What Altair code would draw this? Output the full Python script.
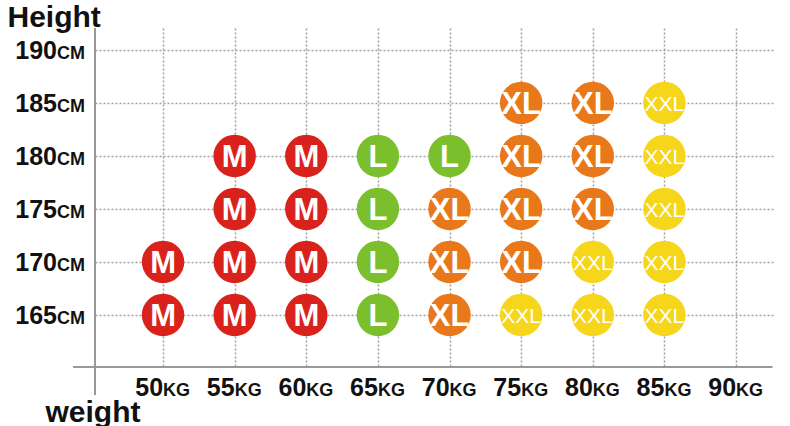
import altair as alt
import pandas as pd

# ---- data ----
weight_ticks = [50, 55, 60, 65, 70, 75, 80, 85, 90]
height_ticks = [165, 170, 175, 180, 185, 190]

pt_weight = [50, 50,
             55, 55, 55, 55,
             60, 60, 60, 60,
             65, 65, 65, 65,
             70, 70, 70, 70,
             75, 75, 75, 75, 75,
             80, 80, 80, 80, 80,
             85, 85, 85, 85, 85]
pt_height = [165, 170,
             165, 170, 175, 180,
             165, 170, 175, 180,
             165, 170, 175, 180,
             165, 170, 175, 180,
             165, 170, 175, 180, 185,
             165, 170, 175, 180, 185,
             165, 170, 175, 180, 185]
pt_size = ["M", "M",
           "M", "M", "M", "M",
           "M", "M", "M", "M",
           "L", "L", "L", "L",
           "XL", "XL", "XL", "L",
           "XXL", "XL", "XL", "XL", "XL",
           "XXL", "XXL", "XL", "XL", "XL",
           "XXL", "XXL", "XXL", "XXL", "XXL"]

size_names = ["M", "L", "XL", "XXL"]
size_colors = ["#d9221c", "#7cbf2c", "#e8781a", "#f6d61a"]

X_DOMAIN = [45.25, 92.72]
Y_DOMAIN = [160.09, 192.07]

# axis lines (data units)
xline = pd.DataFrame({"x": [43.72], "x2": [92.55], "y": [160.09]})
yline = pd.DataFrame({"x": [45.25], "y": [157.45], "y2": [192.07]})

pts = pd.DataFrame({"w": pt_weight, "h": pt_height, "s": pt_size})
xlab = pd.DataFrame({"w": weight_ticks, "num": [str(v) for v in weight_ticks],
                     "unit": ["KG"] * len(weight_ticks), "h": [Y_DOMAIN[0]] * len(weight_ticks)})
ylab = pd.DataFrame({"h": height_ticks, "num": [str(v) for v in height_ticks],
                     "unit": ["CM"] * len(height_ticks), "w": [X_DOMAIN[0]] * len(height_ticks)})

FONT = "Liberation Sans"
xs = alt.Scale(domain=X_DOMAIN, nice=False, zero=False)
ys = alt.Scale(domain=Y_DOMAIN, nice=False, zero=False)

xaxis = alt.Axis(values=weight_ticks, grid=True, gridDash=[2, 2], gridColor="#a0a0a0",
                 gridWidth=1.5, domain=False, ticks=False, labels=False,
                 title="weight", titleAngle=0, titleX=-50, titleY=54, titleAlign="left",
                 titleBaseline="alphabetic", titleFontSize=30, titleFont=FONT,
                 titleFontWeight="bold", titleColor="#111111")
yaxis = alt.Axis(values=height_ticks, grid=True, gridDash=[2, 2], gridColor="#a0a0a0",
                 gridWidth=1.5, domain=False, ticks=False, labels=False,
                 title="Height", titleAngle=0, titleX=-88, titleY=-2, titleAlign="left",
                 titleBaseline="alphabetic", titleFontSize=30, titleFont=FONT,
                 titleFontWeight="bold", titleColor="#111111")

base_grid = alt.Chart(pts).mark_point(opacity=0).encode(
    x=alt.X("w:Q", scale=xs, axis=xaxis),
    y=alt.Y("h:Q", scale=ys, axis=yaxis),
)

x_rule = alt.Chart(xline).mark_rule(color="#999999", strokeWidth=2).encode(
    x=alt.X("x:Q", scale=xs), x2="x2:Q", y=alt.Y("y:Q", scale=ys))
y_rule = alt.Chart(yline).mark_rule(color="#999999", strokeWidth=2).encode(
    x=alt.X("x:Q", scale=xs), y=alt.Y("y:Q", scale=ys), y2="y2:Q")

circles = alt.Chart(pts).mark_circle(size=1800, opacity=1).encode(
    x=alt.X("w:Q", scale=xs),
    y=alt.Y("h:Q", scale=ys),
    color=alt.Color("s:N", scale=alt.Scale(domain=size_names, range=size_colors), legend=None),
)

bold_lbl = alt.Chart(pts).transform_filter(alt.datum.s != "XXL").mark_text(
    font=FONT, fontWeight="bold", fontSize=31, color="white", align="center",
    baseline="alphabetic", dy=11
).encode(x=alt.X("w:Q", scale=xs), y=alt.Y("h:Q", scale=ys), text="s:N")

narrow_lbl = alt.Chart(pts).transform_filter(alt.datum.s == "XXL").mark_text(
    font=FONT, fontWeight="normal", fontSize=21, color="white",
    align="center", baseline="alphabetic", dy=8
).encode(x=alt.X("w:Q", scale=xs), y=alt.Y("h:Q", scale=ys), text="s:N")

x_num = alt.Chart(xlab).mark_text(font=FONT, fontWeight="bold", fontSize=25, color="#111111",
                                  align="right", baseline="alphabetic", dy=29).encode(
    x=alt.X("w:Q", scale=xs), y=alt.Y("h:Q", scale=ys), text="num:N")
x_unit = alt.Chart(xlab).mark_text(font=FONT, fontWeight="bold", fontSize=18, color="#111111",
                                   align="left", baseline="alphabetic", dy=29).encode(
    x=alt.X("w:Q", scale=xs), y=alt.Y("h:Q", scale=ys), text="unit:N")

y_num = alt.Chart(ylab).mark_text(font=FONT, fontWeight="bold", fontSize=25, color="#111111",
                                  align="right", baseline="alphabetic", dx=-38, dy=9).encode(
    x=alt.X("w:Q", scale=xs), y=alt.Y("h:Q", scale=ys), text="num:N")
y_unit = alt.Chart(ylab).mark_text(font=FONT, fontWeight="bold", fontSize=18, color="#111111",
                                   align="left", baseline="alphabetic", dx=-38, dy=9).encode(
    x=alt.X("w:Q", scale=xs), y=alt.Y("h:Q", scale=ys), text="unit:N")

chart = alt.layer(
    base_grid, x_rule, y_rule, circles, bold_lbl, narrow_lbl, x_num, x_unit, y_num, y_unit
).properties(
    width=680, height=339,
    autosize=alt.AutoSizeParams(type="none"),
    padding={"left": 95, "top": 28, "right": 15, "bottom": 59},
    background="white",
).configure_view(stroke=None)

chart.save("out.html", embed_options={"renderer": "svg", "actions": False})
